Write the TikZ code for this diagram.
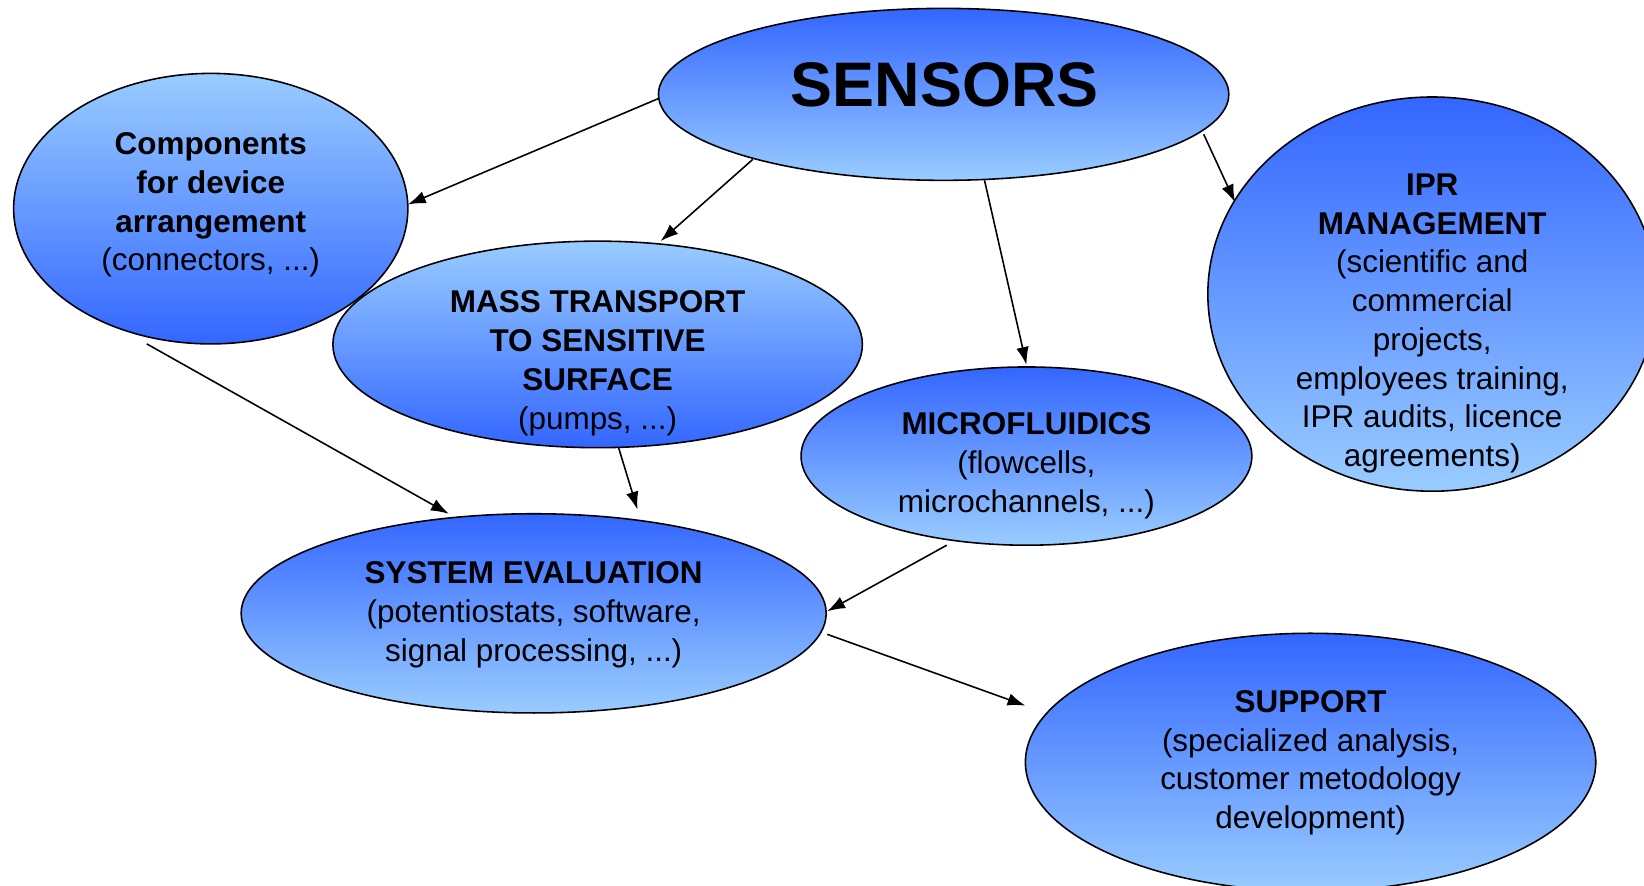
\documentclass[tikz,border=0pt]{standalone}
\usepackage{fontspec}
\setmainfont{Liberation Sans}
\usetikzlibrary{arrows.meta,shapes.geometric}
\definecolor{bdark}{RGB}{51,102,255}
\definecolor{blight}{RGB}{153,204,255}
\tikzset{
  blob/.style={ellipse, draw=black, line width=0.75pt, inner sep=0pt, outer sep=0pt},
  downblob/.style={blob, top color=bdark, bottom color=blight},
  upblob/.style={blob, top color=blight, bottom color=bdark},
  txt/.style={align=center, inner sep=0pt, font=\fontsize{15pt}{18.5pt}\selectfont},
  conn/.style={line width=0.75pt, -{Latex[length=8.5pt,width=6pt]}}
}
\begin{document}
\begin{tikzpicture}[x=0.5pt,y=-0.5pt]
\useasboundingbox (0,0) rectangle (1568,845);
\begin{scope}
\clip (0,0) rectangle (1568,845);
% ellipses
\node[downblob, minimum width=272pt, minimum height=82pt] (sens) at (900,90) {};
\node[upblob, minimum width=188pt, minimum height=129pt] (comp) at (201,199) {};
\node[upblob, minimum width=252.5pt, minimum height=98.5pt] (mass) at (570,328.5) {};
\node[downblob, minimum width=215pt, minimum height=85pt] (micro) at (979,435) {};
\node[downblob, minimum width=214pt, minimum height=188pt] (ipr) at (1366,280.5) {};
\node[downblob, minimum width=279pt, minimum height=95pt] (syst) at (509,585) {};
\node[downblob, minimum width=272pt, minimum height=123pt] (supp) at (1250,727) {};
\end{scope}
% texts
\node[inner sep=0pt, font=\fontsize{30pt}{36pt}\selectfont\bfseries] (senst) at (901,81) {SENSORS};
\node[txt] (compt) at (201,195.5) {\textbf{Components}\\\textbf{for device}\\\textbf{arrangement}\\(connectors, ...)};
\node[txt] (masst) at (570,346.5) {\textbf{MASS TRANSPORT}\\\textbf{TO SENSITIVE}\\\textbf{SURFACE}\\(pumps, ...)};
\node[txt] (microt) at (979,444) {\textbf{MICROFLUIDICS}\\(flowcells,\\microchannels, ...)};
\node[txt] (iprt) at (1366,308.5) {\textbf{IPR}\\\textbf{MANAGEMENT}\\(scientific and\\commercial\\projects,\\employees training,\\IPR audits, licence\\agreements)};
\node[txt] (systt) at (509,586.5) {\textbf{SYSTEM EVALUATION}\\(potentiostats, software,\\signal processing, ...)};
\node[txt] (suppt) at (1250,727.5) {\textbf{SUPPORT}\\(specialized analysis,\\customer metodology\\development)};
% connector end points
\coordinate (a1s) at (628,94);   \coordinate (a1e) at (389,195);
\coordinate (a2s) at (718,152);  \coordinate (a2e) at (630,230);
\coordinate (a3s) at (939,172);  \coordinate (a3e) at (979,348);
\coordinate (a4s) at (1148,128); \coordinate (a4e) at (1178,193);
\coordinate (a5s) at (140,328);  \coordinate (a5e) at (428,490);
\coordinate (a6s) at (590,427);  \coordinate (a6e) at (608,486);
\coordinate (a7s) at (903,520);  \coordinate (a7e) at (789,583);
\coordinate (a8s) at (789,605);  \coordinate (a8e) at (978,673);
\draw[conn] (a1s) -- (a1e);
\draw[conn] (a2s) -- (a2e);
\draw[conn] (a3s) -- (a3e);
\draw[conn] (a4s) -- (a4e);
\draw[conn] (a5s) -- (a5e);
\draw[conn] (a6s) -- (a6e);
\draw[conn] (a7s) -- (a7e);
\draw[conn] (a8s) -- (a8e);
\end{tikzpicture}
\end{document}
